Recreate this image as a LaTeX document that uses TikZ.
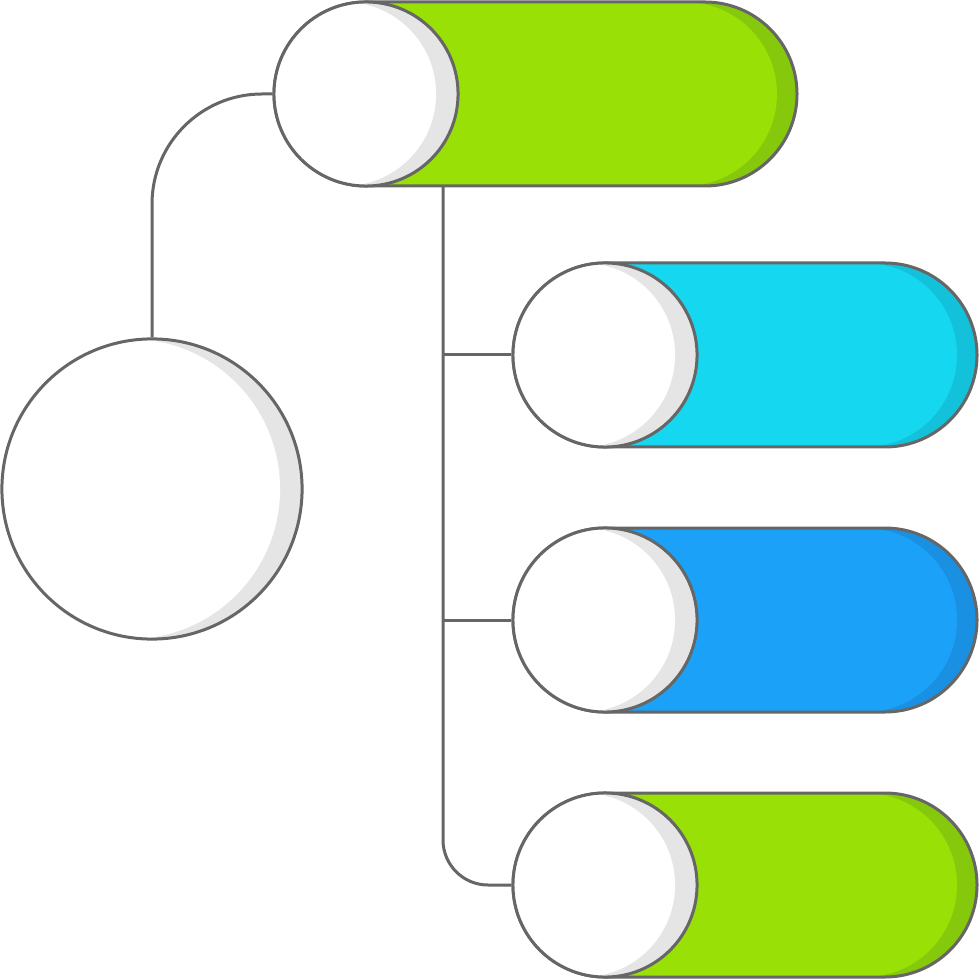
\documentclass[tikz,border=0pt]{standalone}
\usepackage{tikz}
\usetikzlibrary{positioning,calc}

\definecolor{edge}{HTML}{666666}
\definecolor{shade}{HTML}{E5E5E5}
\definecolor{lime}{HTML}{98E006}
\definecolor{limedark}{HTML}{86C90C}
\definecolor{aqua}{HTML}{15D7EF}
\definecolor{aquadark}{HTML}{13C1DA}
\definecolor{azure}{HTML}{1BA1F8}
\definecolor{azuredark}{HTML}{1A90E3}

\tikzset{
  knob/.style={circle, draw=edge, line width=0.03cm, fill=shade, inner sep=0pt,
    minimum size=#1,
    path picture={\fill[white] ([xshift=-0.22cm]path picture bounding box.center) circle (#1/2);}},
  link/.style={draw=edge, line width=0.03cm},
}

\begin{document}
\begin{tikzpicture}[x=0.01cm,y=-0.01cm]
    \useasboundingbox (0,0) rectangle (979,980);
    % top bar
    \fill[limedark,rounded corners=0.92cm] (274,2) rectangle (797,186);
    \fill[lime,rounded corners=0.92cm] (274,2) rectangle (777,186);
    \draw[edge,line width=0.03cm,rounded corners=0.92cm] (274,2) rectangle (797,186);
    \node[knob=1.84cm] (top) at (366,94) {};
    \coordinate (trunk) at (443,186);
    % right bars
    \foreach \n/\y/\c in {1/355/aqua, 2/620/azure, 3/885/lime} {
        \fill[\c dark,rounded corners=0.92cm] (513,\y-92) rectangle (977,\y+92);
        \fill[\c,rounded corners=0.92cm] (513,\y-92) rectangle (957,\y+92);
        \draw[edge,line width=0.03cm,rounded corners=0.92cm] (513,\y-92) rectangle (977,\y+92);
        \node[knob=1.84cm] (k\n) at (605,\y) {};
    }
    % big circle
    \node[knob=3cm] (hub) at (152,489) {};
    % connectors
    \draw[link,rounded corners=1.1cm] (top.west) -| (hub.north);
    \draw[link,rounded corners=0.45cm] (trunk) |- (k3.west);
    \draw[link] (trunk |- k1.west) -- (k1.west);
    \draw[link] (trunk |- k2.west) -- (k2.west);
  \end{tikzpicture}
\end{document}
